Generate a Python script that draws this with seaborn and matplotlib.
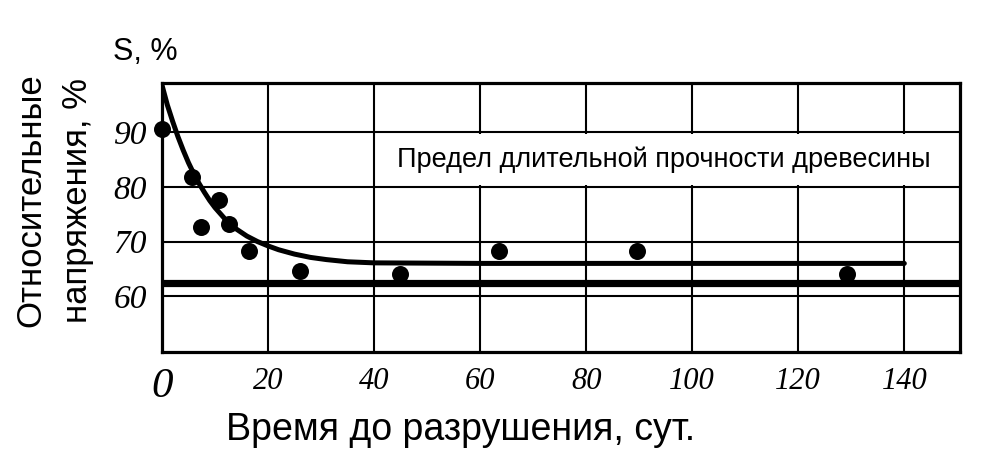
import matplotlib
matplotlib.use("Agg")
import matplotlib.pyplot as plt
import seaborn as sns
import pandas as pd
from matplotlib.patches import Rectangle

# --- data ---
days = [0, 5.6, 7.3, 10.7, 12.6, 16.4, 26.0, 44.8, 63.6, 89.6, 129.2]
stress = [90.5, 81.8, 72.6, 77.6, 73.3, 68.3, 64.7, 64.1, 68.2, 68.2, 64.1]

curve_x = [0, 1, 2, 3, 4, 5, 6, 7, 8, 9, 10, 12, 14, 16, 18, 20, 22, 25, 28, 31, 35, 40, 60, 100, 140]
curve_y = [98.6, 95.0, 92.0, 89.2, 86.7, 84.4, 82.4, 80.6, 79.0, 77.5, 76.2, 74.0, 72.3, 71.0, 70.0,
           69.2, 68.5, 67.7, 67.1, 66.7, 66.3, 66.1, 66.0, 66.0, 66.0]

limit_value = 62.4

x_ticks = [0, 20, 40, 60, 80, 100, 120, 140]
y_ticks = [60, 70, 80, 90]

title_text = "Предел длительной прочности древесины"
x_label = "Время до разрушения, сут."
y_label_lines = ["Относительные", "напряжения, %"]
y_unit = "S, %"

pts = pd.DataFrame({"days": days, "stress": stress})
crv = pd.DataFrame({"days": curve_x, "stress": curve_y})

sns.set_style("white")
plt.rcParams["font.family"] = ["Liberation Sans", "DejaVu Sans"]
plt.rcParams["text.color"] = "black"
plt.rcParams["xtick.color"] = "black"
plt.rcParams["ytick.color"] = "black"

fig = plt.figure(figsize=(9.83, 4.57), dpi=100)
ax = fig.add_axes([0.1648, 0.2298, 0.8118, 0.5886])

ax.set_xlim(0, 150.5)
ax.set_ylim(49.8, 99.0)

# grid
for xv in x_ticks[1:]:
    ax.axvline(xv, color="black", lw=1.5, zorder=1)
for yv in y_ticks:
    ax.axhline(yv, color="black", lw=1.5, zorder=1)

# white band behind the caption
ax.add_patch(Rectangle((41, 80.35), 109.3, 9.3, facecolor="white", edgecolor="none", zorder=2))
ax.text(94.7, 85.0, title_text, fontsize=19.5, ha="center", va="center",
        color="black", zorder=3)

# limit line
ax.axhline(limit_value, color="black", lw=5.2, zorder=4)

# fitted curve
sns.lineplot(data=crv, x="days", y="stress", ax=ax, color="black", lw=3.6, zorder=5,
             legend=False, sort=False)

# experimental points
sns.scatterplot(data=pts, x="days", y="stress", ax=ax, color="black", s=150,
                edgecolor="black", linewidth=0, zorder=6, legend=False, clip_on=False)

for sp in ax.spines.values():
    sp.set_color("black")
    sp.set_linewidth(2.3)
    sp.set_visible(True)

ax.set_xticks(x_ticks)
ax.set_yticks(y_ticks)
ax.set_xticklabels([str(v) for v in x_ticks], family="Liberation Serif", style="italic", fontsize=22)
ax.set_yticklabels([str(v) for v in y_ticks], family="Liberation Serif", style="italic", fontsize=24)
ax.get_xticklabels()[0].set_fontsize(31)
ax.tick_params(axis="both", length=0)
ax.tick_params(axis="x", pad=11)
ax.tick_params(axis="y", pad=11)

ax.set_xlabel("")
ax.set_ylabel("")
fig.text(0.469, 0.06, x_label, fontsize=27, ha="center", va="center")
fig.text(0.031, 0.562, y_label_lines[0], fontsize=25, ha="center", va="center", rotation=90)
fig.text(0.079, 0.562, y_label_lines[1], fontsize=25, ha="center", va="center", rotation=90)
fig.text(0.148, 0.886, y_unit, fontsize=22, ha="center", va="center")

fig.savefig("out.png", dpi=100)
